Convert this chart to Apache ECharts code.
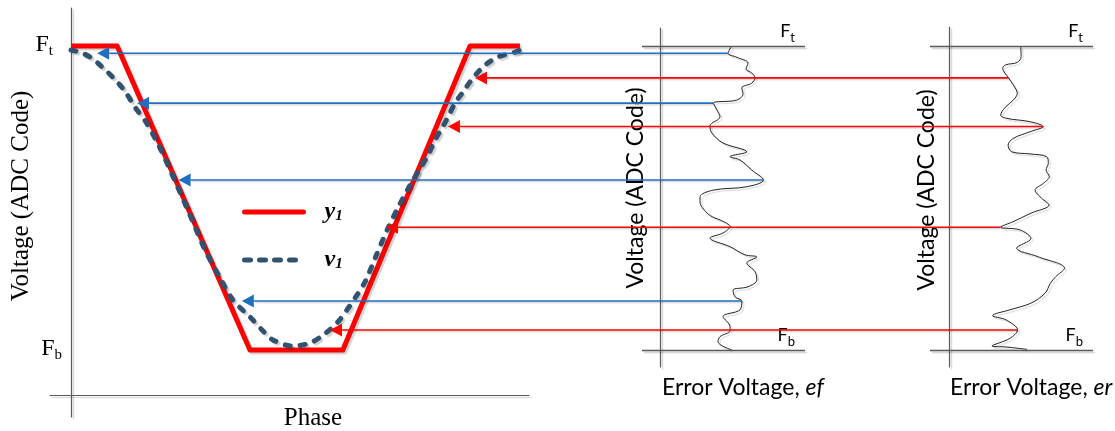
<!DOCTYPE html>
<html>
<head>
<meta charset="utf-8">
<script src="https://cdn.jsdelivr.net/npm/echarts@6/dist/echarts.min.js"></script>
<style>
  html, body { margin: 0; padding: 0; background: #ffffff; }
  #chart { width: 1115px; height: 431px; }
</style>
</head>
<body>
<div id="chart"></div>
<script>
// ---- Voltage levels (ADC code) ----
const FT = 115;   // top code level, Ft
const FB = 15;    // bottom code level, Fb

// ---- y1: ideal trapezoid over one period ----
const y1Phase = [0, 37, 143.5, 218, 320, 360];
const y1Volt  = [115, 115, 15, 15, 115, 115];

// ---- v1: measured waveform ----
const v1Phase = [0, 8.8, 16.8, 25.7, 35.3, 43.3, 51.3, 60.1, 71.4, 83.4, 95.4, 107.5, 118.7, 129.9,
  143.5, 153.2, 162.0, 178.0, 191.7, 202.1, 213.3, 221.3, 229.4, 235.8, 244.6, 254.2, 263.0, 271.1,
  279.1, 286.3, 291.9, 297.5, 302.3, 307.9, 314.4, 322.4, 332.0, 342.4, 356.1, 360];
const v1Volt = [113.7, 112.7, 111.0, 107.8, 104.0, 100.1, 94.9, 90.0, 81.4, 70.6, 59.4, 47.9, 39.3, 31.4,
  25.9, 21.6, 18.3, 16.3, 17.3, 19.9, 23.9, 28.2, 33.1, 37.4, 45.9, 55.1, 62.4, 68.6,
  74.2, 79.1, 84.1, 88.0, 91.6, 96.2, 99.9, 104.5, 108.7, 111.4, 113.0, 113.7];

// ---- ef: error voltage on the falling edge, per code ----
const efVolt = [115, 112.6, 111.3, 109.4, 107.4, 106.1, 104.5, 102.8, 101.2, 99.2, 97.2, 96.2, 94.0, 91.7,
  88.7, 86.4, 83.1, 80.2, 78.6, 77.5, 74.2, 70.9, 68.7, 67.6, 65.4, 63.8, 60.1, 58.4, 57.8, 55.6, 53.5,
  51.8, 49.0, 46.3, 45.6, 43.6, 40.8, 38.0, 35.8, 34.7, 32.5, 31.1, 28.2, 26.0, 22.7, 21.3, 19.4, 17.7, 15];
const efValue = [35.9, 34, 38.4, 44, 43, 45.9, 47.5, 45.9, 40.9, 41.5, 38.4, 26.7, 28.4, 30,
  25, 25.9, 31.5, 43.4, 35, 40, 45.9, 51.7, 43.4, 26.7, 20, 20, 23.4, 27.5, 30, 35, 31.5,
  25, 35, 42.5, 48.4, 43.4, 47.5, 48.4, 44, 36.5, 37.5, 40.9, 40, 31.5, 35, 35, 30, 29, 35.9];

// ---- er: error voltage on the rising edge, per code ----
const erVolt = [115, 111.5, 109.6, 108.8, 107.7, 104.5, 102.2, 99.4, 97.2, 94.8, 92.3, 91.2, 90.1, 88.5,
  86.8, 84.6, 82.4, 80.2, 79.5, 78.6, 76.4, 74.2, 72.0, 69.8, 67.6, 64.9, 62.7, 60.0, 57.2, 55.4, 54.5,
  51.7, 48.5, 45.7, 41.9, 39.1, 36.9, 33.7, 30.4, 28.2, 26.3, 24.9, 21.6, 18.8, 16.3, 16.0, 15.2];
const erValue = [35.7, 35.9, 34, 28.2, 26.7, 29.6, 32, 34, 32, 27.9, 25.7, 28.7, 40.4, 46.9,
  40.4, 32, 29.4, 31.2, 40.4, 48.7, 49.5, 48.4, 50, 47, 42.9, 46.2, 49.9, 40.8, 31.9, 25.7, 35.4,
  40.8, 33.7, 44.3, 57.6, 53.2, 50.5, 47.9, 40.8, 30.2, 21.6, 28.4, 34.1, 30.2, 21.3, 28.4, 38.9];

// ---- mapping arrows: code level, error value, and phase on the waveform ----
const blueLevels  = [112.6, 96.2, 70.9, 31.1];
const blueFromEf  = [34, 26.7, 51.7, 40.9];
const blueToPhase = [21, 53, 86.3, 137];
const redLevels   = [104.5, 88.5, 55.4, 21.6];
const redFromEr   = [29.6, 46.9, 25.7, 34.1];
const redToPhase  = [324, 302.3, 252.6, 207.7];

// ---- layout: shared vertical code scale across the three panels ----
const PX_PER_CODE = 3.04, CODE0_Y = 395.6;
function codeRange(topPx, bottomPx) {
  return { min: (CODE0_Y - bottomPx) / PX_PER_CODE, max: (CODE0_Y - topPx) / PX_PER_CODE };
}
function xRange(leftPx, rightPx, zeroPx, pxPerUnit) {
  return { min: (leftPx - zeroPx) / pxPerUnit, max: (rightPx - zeroPx) / pxPerUnit };
}
const panels = [
  { left: 50,  right: 529,  top: 8,  bottom: 417, zero: 71,    ppu: 1.247 },
  { left: 642, right: 805,  top: 28, bottom: 367, zero: 660,   ppu: 2 },
  { left: 930, right: 1093, top: 27, bottom: 367, zero: 949.3, ppu: 2 }
];

const zip = (a, b) => a.map((v, i) => [v, b[i]]);
const axisGray = '#5a5a5a';
const shadow = { shadowColor: 'rgba(0,0,0,0.18)', shadowBlur: 1, shadowOffsetX: 2, shadowOffsetY: 2 };
const SERIF = '"Liberation Serif", "Times New Roman", serif';
const SANS = 'Lato, "Open Sans", sans-serif';
const Y1_COLOR = '#ff0000', V1_COLOR = '#33526f';

const grids = panels.map(p => ({ left: p.left, top: p.top, width: p.right - p.left, height: p.bottom - p.top }));
const xAxes = panels.map((p, i) => {
  const r = xRange(p.left, p.right, p.zero, p.ppu);
  return {
    type: 'value', gridIndex: i, min: r.min, max: r.max, show: i === 0,
    axisLine: { onZero: true, lineStyle: Object.assign({ color: axisGray, width: 1.2 }, shadow) },
    axisTick: { show: false }, axisLabel: { show: false }, splitLine: { show: false }
  };
});
const yAxes = panels.map((p, i) => {
  const r = codeRange(p.top, p.bottom);
  return {
    type: 'value', gridIndex: i, min: r.min, max: r.max,
    axisLine: { onZero: true, lineStyle: Object.assign({ color: axisGray, width: 1.2 }, shadow) },
    axisTick: { show: false }, splitLine: { show: false },
    axisLabel: i === 0 ? {
      show: true, customValues: [FB, FT], margin: -12,
      formatter: v => v === FT ? '{f|F}{st|t}' : '{f|F}{sb|b}',
      rich: {
        f:  { fontFamily: SERIF, fontSize: 24, color: '#000', lineHeight: 26, verticalAlign: 'top' },
        st: { fontFamily: SERIF, fontSize: 15, color: '#000', lineHeight: 26, verticalAlign: 'bottom', padding: [0, 9, 0, 0] },
        sb: { fontFamily: SERIF, fontSize: 15, color: '#000', lineHeight: 26, verticalAlign: 'bottom' }
      }
    } : { show: false }
  };
});

const levelLabelRich = {
  f: { fontFamily: SANS, fontSize: 18, color: '#000', lineHeight: 22, verticalAlign: 'top' },
  s: { fontFamily: SANS, fontSize: 13, color: '#000', lineHeight: 22, verticalAlign: 'bottom' }
};
function levelLines() {
  return {
    silent: true, symbol: 'none', animation: false,
    lineStyle: Object.assign({ color: axisGray, width: 1.4, type: 'solid' }, shadow),
    label: { position: 'insideEndTop', distance: [10, 2], rich: levelLabelRich },
    data: [
      { yAxis: FT, label: { formatter: '{f|F}{s|t}' } },
      { yAxis: FB, label: { formatter: '{f|F}{s|b}' } }
    ]
  };
}

const option = {
  animation: false,
  backgroundColor: '#ffffff',
  grid: grids,
  xAxis: xAxes,
  yAxis: yAxes,
  legend: {
    orient: 'vertical', left: 237, top: 195, itemWidth: 59, itemHeight: 24, itemGap: 24,
    selectedMode: false,
    formatter: n => '{i|' + n.charAt(0) + '}{s|' + n.slice(1) + '}',
    textStyle: {
      padding: [0, 0, 0, 16],
      rich: {
        i: { fontFamily: SERIF, fontStyle: 'italic', fontWeight: 'bold', fontSize: 24, color: '#000', lineHeight: 24, verticalAlign: 'top' },
        s: { fontFamily: SERIF, fontStyle: 'italic', fontWeight: 'bold', fontSize: 15, color: '#000', lineHeight: 24, verticalAlign: 'bottom' }
      }
    },
    data: [
      { name: 'y1', itemStyle: { opacity: 0 }, lineStyle: { width: 5, cap: 'round', color: Y1_COLOR } },
      { name: 'v1', itemStyle: { opacity: 0 }, lineStyle: { width: 5, cap: 'round', color: V1_COLOR, type: [6, 9] } }
    ]
  },
  series: [
    {
      name: 'y1', type: 'line', xAxisIndex: 0, yAxisIndex: 0, symbol: 'none', z: 3,
      data: zip(y1Phase, y1Volt),
      lineStyle: Object.assign({ color: Y1_COLOR, width: 5, join: 'round' }, shadow),
      itemStyle: { color: Y1_COLOR }
    },
    {
      name: 'v1', type: 'line', xAxisIndex: 0, yAxisIndex: 0, symbol: 'none', smooth: 0.3, z: 4,
      data: zip(v1Phase, v1Volt),
      lineStyle: Object.assign({ color: V1_COLOR, width: 5, type: [5, 10], cap: 'round' }, shadow),
      itemStyle: { color: V1_COLOR }
    },
    {
      name: 'ef', type: 'line', xAxisIndex: 1, yAxisIndex: 1, symbol: 'none', smooth: 0.35,
      data: zip(efValue, efVolt),
      lineStyle: Object.assign({ color: '#222', width: 1 }, shadow),
      markLine: levelLines()
    },
    {
      name: 'er', type: 'line', xAxisIndex: 2, yAxisIndex: 2, symbol: 'none', smooth: 0.35,
      data: zip(erValue, erVolt),
      lineStyle: Object.assign({ color: '#222', width: 1 }, shadow),
      markLine: levelLines()
    }
  ]
};

const chart = echarts.init(document.getElementById('chart'), null, { renderer: 'canvas' });
chart.setOption(option);

// ---- arrows from the error plots back to the waveform, plus text labels ----
function arrow(from, to, color) {
  const dx = to[0] - from[0], dy = to[1] - from[1];
  const len = Math.hypot(dx, dy), ux = dx / len, uy = dy / len;
  const headLen = 12, headHalf = 6.5;
  const bx = to[0] - ux * headLen, by = to[1] - uy * headLen;
  return [
    { type: 'line', z: 50, silent: true,
      shape: { x1: from[0], y1: from[1], x2: bx, y2: by },
      style: { stroke: color, lineWidth: 1.6, shadowColor: 'rgba(0,0,0,0.15)', shadowOffsetX: 1.5, shadowOffsetY: 1.5, shadowBlur: 1 } },
    { type: 'polygon', z: 50, silent: true,
      shape: { points: [to, [bx - uy * headHalf, by + ux * headHalf], [bx + uy * headHalf, by - ux * headHalf]] },
      style: { fill: color } }
  ];
}

const graphics = [];
blueLevels.forEach((v, i) => {
  const from = chart.convertToPixel({ gridIndex: 1 }, [blueFromEf[i], v]);
  const to = chart.convertToPixel({ gridIndex: 0 }, [blueToPhase[i], v]);
  graphics.push(...arrow(from, to, '#1f6fbe'));
});
redLevels.forEach((v, i) => {
  const from = chart.convertToPixel({ gridIndex: 2 }, [redFromEr[i], v]);
  const to = chart.convertToPixel({ gridIndex: 0 }, [redToPhase[i], v]);
  graphics.push(...arrow(from, to, Y1_COLOR));
});

function label(text, x, y, font, opts) {
  return Object.assign({
    type: 'text', x: x, y: y, z: 40, silent: true,
    style: { text: text, font: font, fill: '#000', align: 'center', verticalAlign: 'middle' }
  }, opts || {});
}
graphics.push(
  label('Voltage (ADC Code)', 21, 196, '25px ' + SERIF, { rotation: Math.PI / 2 }),
  label('Phase', 313, 418, '25px ' + SERIF),
  label('Voltage (ADC Code)', 636, 188, '23px ' + SANS, { rotation: Math.PI / 2, z: 10 }),
  label('Voltage (ADC Code)', 927, 190, '23px ' + SANS, { rotation: Math.PI / 2, z: 10 })
);
[['ef', 662], ['er', 950]].forEach(([sym, x]) => {
  graphics.push({
    type: 'text', x: x, y: 388, z: 40, silent: true,
    style: {
      text: 'Error Voltage, {i|' + sym + '}', fill: '#000', font: '23px ' + SANS,
      align: 'left', verticalAlign: 'middle',
      rich: { i: { fontFamily: SANS, fontSize: 23, fontStyle: 'italic' } }
    }
  });
});
chart.setOption({ graphic: graphics });
</script>
</body>
</html>
